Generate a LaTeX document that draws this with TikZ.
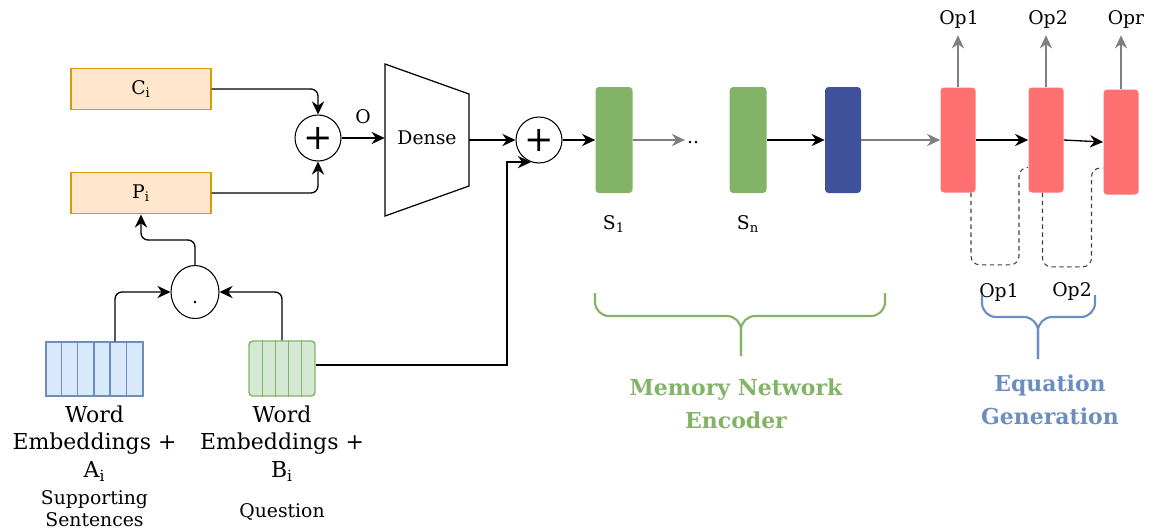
\documentclass[tikz,border=0pt]{standalone}
\usepackage{fontspec}
\setmainfont{DejaVu Serif}
\usepackage{xcolor}
\usepackage{tikz}
\usetikzlibrary{arrows.meta,positioning,calc,shapes.geometric}

\definecolor{orfill}{HTML}{FFE6CC}
\definecolor{ordraw}{HTML}{D79B00}
\definecolor{bluefill}{HTML}{DAE8FC}
\definecolor{bluedraw}{HTML}{6C8EBF}
\definecolor{grnfill}{HTML}{D5E8D4}
\definecolor{sgreen}{HTML}{82B366}
\definecolor{encblue}{HTML}{3F519B}
\definecolor{decred}{HTML}{FF7070}
\definecolor{arrgray}{HTML}{7F7F7F}

\begin{document}
\begin{tikzpicture}[x=0.02cm, y=-0.02cm, >={Stealth[length=7.5pt,width=7pt,inset=2.5pt]},
  every node/.style={font=\fontsize{10.7}{12.5}\selectfont, inner sep=1pt},
  mbox/.style={draw=ordraw, fill=orfill, line width=0.8pt, minimum width=2.8cm, minimum height=0.83cm},
  sumop/.style={draw, circle, line width=0.6pt, minimum size=0.92cm, inner sep=0pt, font=\fontsize{20}{20}\selectfont},
  blk/.style={rounded corners=2pt, minimum width=0.74cm, minimum height=2.12cm},
  arr/.style={->, line width=0.75pt, rounded corners=4pt},
  garr/.style={->, draw=arrgray, line width=0.75pt},
  fb/.style={draw=black!75, dash pattern=on 2.5pt off 2pt, line width=0.6pt, rounded corners=5pt},
  brc/.style={line width=1.2pt, rounded corners=8pt},
  big/.style={font=\fontsize{12.5}{15.6}\selectfont, align=center},
  title/.style={font=\bfseries\fontsize{12.5}{18.7}\selectfont, align=center}]

\useasboundingbox (0,0) rectangle (1149,529);

% memory and question inputs
\node[mbox] (ci) at (141,89) {C\textsubscript{i}};
\node[mbox] (pi) at (141,193) {P\textsubscript{i}};
\node[sumop] (addo) at (318,138) {+};
\draw[arr] (ci.east) -| (addo.north);
\draw[arr] (pi.east) -| (addo.south);

\node[draw=bluedraw, fill=bluefill, line width=0.8pt, minimum width=1.94cm, minimum height=1.08cm] (embA) at (94.5,369) {};
\foreach \k in {1,...,5}
  \draw[bluedraw, line width=0.8pt] ($(embA.north west)+(16.2*\k,0)$) -- ($(embA.south west)+(16.2*\k,0)$);
\node[draw=sgreen, fill=grnfill, line width=0.8pt, rounded corners=2pt, minimum width=1.32cm, minimum height=1.1cm] (embB) at (282,368.5) {};
\foreach \k in {14,27,40,53}
  \draw[sgreen, line width=0.8pt] ($(embB.north west)+(\k,0)$) -- ($(embB.south west)+(\k,0)$);

\node[big, below=4pt of embA] (lblA) {Word\\Embeddings +\\A\textsubscript{i}};
\node[big, below=4pt of embB] (lblB) {Word\\Embeddings +\\B\textsubscript{i}};
\node[align=center, below=3pt of lblA] (supp) {Supporting\\Sentences};
\node[below=10pt of lblB] (ques) {Question};

\node[draw, ellipse, line width=0.6pt, minimum width=0.96cm, minimum height=1.06cm, inner sep=0pt, text height=2.6ex, text depth=0pt] (dotp) at (195,292) {.};
\draw[arr] ([xshift=0.41cm]embA.north) |- (dotp.west);
\draw[arr] (embB.north) |- (dotp.east);
\draw[arr] (dotp.north) -- ++(0,-25) -| (pi.south);

% dense layer
\draw[line width=0.7pt] (385,64) -- (469,94) -- (469,186) -- (385,216) -- cycle;
\node[minimum width=1.68cm, minimum height=1.84cm, inner sep=0pt] (dense) at (427,138) {Dense};
\draw[arr] (addo.east) -- node[above=7pt] (olbl) {O} (dense.west);

\node[sumop] (addq) at (539,140) {+};
\draw[arr] (dense.east |- addq.west) -- (addq.west);
\draw[arr, sharp corners] ([yshift=2pt]embB.east) -| ($(addq.-110)+(-24,0)$) -- (addq.-110);

% memory network encoder
\node[blk, fill=sgreen] (s1) at (614,140) {};
\node[blk, fill=sgreen] (sn) at (748,140) {};
\node[blk, fill=encblue, minimum width=0.72cm] (enc) at (843,140) {};
\node (dots) at (693,143) {..};
\node[below=11.5pt of s1] (s1lbl) {S\textsubscript{1}};
\node[below=11.5pt of sn] (snlbl) {S\textsubscript{n}};
\draw[arr] (addq.east) -- (s1.west);
\draw[garr] (s1.east) -- (dots.west |- s1.east);
\draw[arr] (sn.east) -- (enc.west);

% equation generation
\foreach \n/\x/\y/\o/\lx/\t in {dec1/958/140/op1/959/Op1, dec2/1046/140/op2/1048/Op2, dec3/1121/142/opr/1126/Opr} {
  \node[blk, fill=decred, minimum width=0.7cm, minimum height=2.1cm] (\n) at (\x,\y) {};
  \node (\o) at (\lx,19) {\t};
  \draw[garr, shorten >=3pt] (\n.north) -- (\n.north |- \o.south);
}
\draw[garr] (enc.east) -- (dec1.west);
\draw[arr] (dec1.east) -- (dec2.west);
\draw[arr] (dec2.east) -- (dec3.west);
\draw[fb] ([xshift=0.26cm]dec1.south) |- ++(48,72) |- ([yshift=-0.55cm]dec2.west);
\draw[fb] ([xshift=-0.07cm]dec2.south) |- ++(49,74) |- ([yshift=-0.52cm]dec3.west);
\node (fb1) at (999,292) {Op1};
\node (fb2) at (1072,291) {Op2};

% braces and titles
\draw[brc, draw=sgreen] (595,293) |- (741,316) -- (741,356);
\draw[brc, draw=sgreen] (885,293) |- (741,316) -- (741,356);
\draw[brc, draw=bluedraw] (982,295) |- (1038,317) -- (1038,359);
\draw[brc, draw=bluedraw] (1095,295) |- (1038,317) -- (1038,359);
\node[title, text=sgreen] (memlbl) at (736,404) {Memory Network\\Encoder};
\node[title, text=bluedraw] (eqlbl) at (1050,400) {Equation\\Generation};
\end{tikzpicture}
\end{document}
